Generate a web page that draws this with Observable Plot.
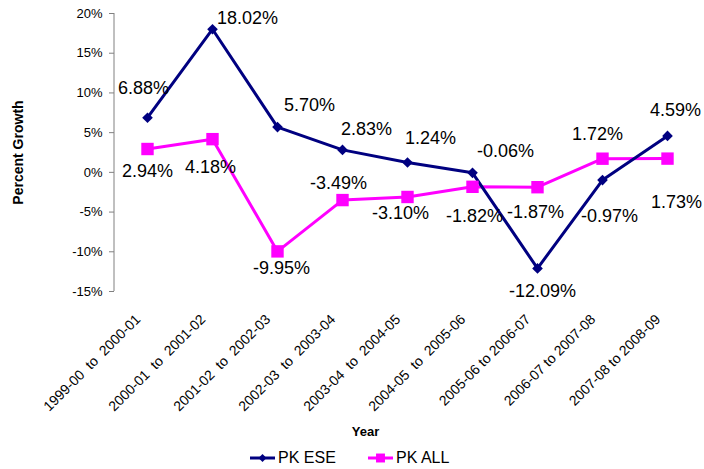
<!DOCTYPE html>
<html>
<head>
<meta charset="utf-8">
<script src="https://cdn.jsdelivr.net/npm/d3@7"></script>
<script src="https://cdn.jsdelivr.net/npm/@observablehq/plot@0.6"></script>
<style>
  body { margin: 0; background: #fff; font-family: "Liberation Sans", Arial, sans-serif; }
  #chart svg text { white-space: pre; }
  #legend { position: relative; width: 704px; height: 22px; font-size: 16px; color: #000; }
  #legend .item { position: absolute; top: 0; height: 22px; display: flex; align-items: center; }
  #legend svg { display: block; margin-right: 3px; }
</style>
</head>
<body>
<div id="chart"></div>
<div id="legend"></div>
<script>
// ---- data ----
const categories = [
  "1999-00  to  2000-01",
  "2000-01  to  2001-02",
  "2001-02  to  2002-03",
  "2002-03  to  2003-04",
  "2003-04  to  2004-05",
  "2004-05  to  2005-06",
  "2005-06 to 2006-07",
  "2006-07 to 2007-08",
  "2007-08 to 2008-09"
];
const pkESE = [6.88, 18.02, 5.70, 2.83, 1.24, -0.06, -12.09, -0.97, 4.59];
const pkALL = [2.94, 4.18, -9.95, -3.49, -3.10, -1.82, -1.87, 1.72, 1.73];
const yTicks = [-15, -10, -5, 0, 5, 10, 15, 20];

const NAVY = "#000080", MAGENTA = "#FF00FF";
const FONT = "Liberation Sans, Arial, sans-serif";

const ese = categories.map((c, i) => ({cat: c, v: pkESE[i], i}));
const all = categories.map((c, i) => ({cat: c, v: pkALL[i], i}));

// label placement (pixel offsets from each point)
const eseOff = [[-4,-29],[35,-11],[32,-22],[24,-21],[23,-24],[33,-22],[5,23],[7,36],[8,-26]];
const allOff = [[0,22],[-2,28],[4,17],[-4,-17],[-7,16],[2,29],[-2,25],[-5,-24],[9,44]];

const fmt = v => v.toFixed(2) + "%";
const labelMarks = [];
ese.forEach((d, i) => labelMarks.push(Plot.text([d], {x: "cat", y: "v", text: d => fmt(d.v), dx: eseOff[i][0], dy: eseOff[i][1], fontSize: 18, fill: "#000"})));
all.forEach((d, i) => labelMarks.push(Plot.text([d], {x: "cat", y: "v", text: d => fmt(d.v), dx: allOff[i][0], dy: allOff[i][1], fontSize: 18, fill: "#000"})));

const chart = Plot.plot({
  width: 704,
  height: 447,
  marginLeft: 114,
  marginRight: 4,
  marginTop: 13,
  marginBottom: 156,
  style: {fontFamily: FONT, background: "#fff", color: "#000"},
  x: {type: "point", domain: categories, padding: 0.5},
  y: {domain: [-15, 20]},
  marks: [
    Plot.axisY({ticks: yTicks, tickSize: 5, tickPadding: 7, tickFormat: d => d + "%", fontSize: 13, stroke: "#808080", label: null}),
    Plot.axisX({tickSize: 0, tickPadding: 0, tickRotate: -45, fontSize: 14, dx: -9.5, dy: 25.5, label: null}),
    Plot.text(["Percent Growth"], {frameAnchor: "left", dx: -96, rotate: -90, textAnchor: "middle", lineAnchor: "middle", fontSize: 14, fontWeight: "bold"}),
    Plot.text(["Year"], {frameAnchor: "bottom", dx: -42, dy: 140, textAnchor: "middle", lineAnchor: "middle", fontSize: 13, fontWeight: "bold"}),
    Plot.line(all, {x: "cat", y: "v", stroke: MAGENTA, strokeWidth: 3}),
    Plot.line(ese, {x: "cat", y: "v", stroke: NAVY, strokeWidth: 3}),
    Plot.dot(all, {x: "cat", y: "v", symbol: "square", r: 7, fill: MAGENTA, stroke: "none"}),
    Plot.dot(ese, {x: "cat", y: "v", symbol: "diamond2", r: 4.8, fill: NAVY, stroke: "none"}),
    ...labelMarks
  ]
});

// y axis line
const ys = chart.scale("y");
d3.select(chart).append("line")
  .attr("x1", 114).attr("x2", 114)
  .attr("y1", ys.apply(20)).attr("y2", ys.apply(-15))
  .attr("stroke", "#808080").attr("stroke-width", 1);

document.getElementById("chart").appendChild(chart);

// legend
const legend = d3.select("#legend");
const items = [
  {name: "PK ESE", color: NAVY, symbol: d3.symbolDiamond2, size: 40, left: 250},
  {name: "PK ALL", color: MAGENTA, symbol: d3.symbolSquare, size: 80, left: 368}
];
items.forEach(it => {
  const div = legend.append("div").attr("class", "item").style("left", it.left + "px");
  const s = div.append("svg").attr("width", 25).attr("height", 14);
  s.append("line").attr("x1", 0).attr("x2", 25).attr("y1", 7).attr("y2", 7).attr("stroke", it.color).attr("stroke-width", 3);
  s.append("path").attr("d", d3.symbol(it.symbol, it.size)()).attr("transform", "translate(12.5,7)").attr("fill", it.color);
  div.append("span").text(it.name);
});
</script>
</body>
</html>
